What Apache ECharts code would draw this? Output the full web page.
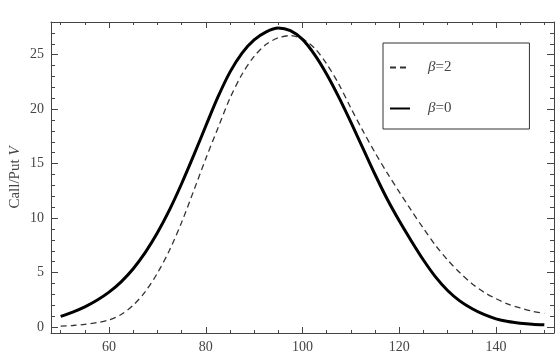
<!DOCTYPE html>
<html>
<head>
<meta charset="utf-8">
<script src="https://cdn.jsdelivr.net/npm/echarts@6/dist/echarts.min.js"></script>
<style>
  html, body { margin: 0; padding: 0; background: #fff; }
  #chart { width: 560px; height: 355px; }
</style>
</head>
<body>
<div id="chart"></div>
<script>
// strike grid and vega values
var strikes = [50, 52.5, 55, 57.5, 60, 62.5, 65, 67.5, 70, 72.5, 75, 77.5, 80, 82.5, 85, 87.5, 90, 92.5, 95, 97.5,
  100, 102.5, 105, 107.5, 110, 112.5, 115, 117.5, 120, 122.5, 125, 127.5, 130, 132.5, 135, 137.5, 140, 142.5, 145, 147.5, 150];
var vegaBeta0 = [0.97, 1.37, 1.85, 2.45, 3.2, 4.15, 5.35, 6.85, 8.65, 10.75, 13.15, 15.75, 18.45, 21.1, 23.4, 25.15, 26.35, 27.1, 27.45, 27.2,
  26.4, 25.0, 23.2, 21.1, 18.8, 16.4, 14.0, 11.75, 9.75, 7.9, 6.15, 4.6, 3.35, 2.4, 1.7, 1.15, 0.75, 0.5, 0.35, 0.25, 0.2];
var vegaBeta2 = [0.08, 0.14, 0.24, 0.4, 0.65, 1.15, 2.0, 3.25, 4.95, 7.05, 9.6, 12.5, 15.45, 18.25, 21.0, 23.2, 24.85, 25.95, 26.55, 26.75,
  26.45, 25.6, 24.15, 22.3, 20.1, 18.0, 16.0, 14.15, 12.4, 10.7, 9.05, 7.5, 6.15, 5.0, 4.0, 3.2, 2.6, 2.1, 1.75, 1.45, 1.25];
var seriesNames = ['β=2', 'β=0'];

function pairs(xs, ys) {
  var out = [];
  for (var i = 0; i < xs.length; i++) out.push([xs[i], ys[i]]);
  return out;
}

var chart = echarts.init(document.getElementById('chart'), null, { renderer: 'canvas' });

var serif = 'Liberation Serif, Times New Roman, serif';
var frameColor = '#444';

function baseAxis(pos, showLabel, fmtStep) {
  return {
    type: 'value',
    position: pos,
    axisLine: { show: true, onZero: false, lineStyle: { color: frameColor, width: 1 } },
    axisTick: { show: true, inside: true, length: 6, lineStyle: { color: frameColor } },
    minorTick: { show: true, length: 3, lineStyle: { color: frameColor } },
    splitLine: { show: false },
    axisLabel: {
      show: showLabel,
      color: '#444',
      fontFamily: serif,
      fontSize: 14,
      formatter: function (v) { return Math.abs(v % fmtStep) < 1e-9 ? String(v) : ''; }
    }
  };
}

var xBottom = baseAxis('bottom', true, 20);
xBottom.min = 48; xBottom.max = 152; xBottom.splitNumber = 5;
xBottom.minorTick.splitNumber = 4;
xBottom.axisLabel.margin = 7;
var xTop = baseAxis('top', false, 20);
xTop.min = 48; xTop.max = 152; xTop.splitNumber = 5;
xTop.minorTick.splitNumber = 4;

var yLeft = baseAxis('left', true, 5);
yLeft.min = -0.55; yLeft.max = 28; yLeft.splitNumber = 5;
yLeft.minorTick.splitNumber = 5;
yLeft.axisTick.length = 7;
yLeft.minorTick.length = 4;
yLeft.axisLabel.margin = 7;
yLeft.name = 'Call/Put {i|V}';
yLeft.nameLocation = 'middle';
yLeft.nameGap = 28;
yLeft.nameMoveOverlap = false;
yLeft.nameTextStyle = {
  color: '#444', fontFamily: serif, fontSize: 15,
  rich: { i: { fontStyle: 'italic', fontFamily: serif, fontSize: 15, color: '#444' } }
};
var yRight = baseAxis('right', false, 5);
yRight.min = -0.55; yRight.max = 28; yRight.splitNumber = 5;
yRight.minorTick.splitNumber = 5;
yRight.axisTick.length = 7;
yRight.minorTick.length = 4;

var option = {
  animation: false,
  backgroundColor: '#fff',
  grid: { left: 51, top: 22, right: 6, bottom: 22, outerBoundsMode: 'none' },
  legend: {
    orient: 'vertical',
    left: 383,
    top: 43,
    data: seriesNames,
    itemWidth: 20,
    itemHeight: 14,
    itemGap: 26,
    padding: [17, 78, 13, 6],
    borderColor: '#333',
    borderWidth: 1,
    itemStyle: { opacity: 0 },
    formatter: function (n) { return '{i|β}' + n.slice(1); },
    textStyle: {
      color: '#444', fontFamily: serif, fontSize: 15, padding: [0, 0, 0, 13],
      rich: { i: { fontStyle: 'italic', fontFamily: serif, fontSize: 15, color: '#444' } }
    }
  },
  xAxis: [xBottom, xTop],
  yAxis: [yLeft, yRight],
  series: [
    {
      name: seriesNames[0],
      type: 'line',
      xAxisIndex: 0, yAxisIndex: 0,
      data: pairs(strikes, vegaBeta2),
      smooth: 0.3,
      symbol: 'none',
      lineStyle: { color: '#333', width: 1.3, type: [6, 4] },
      itemStyle: { color: '#333' }
    },
    {
      name: seriesNames[1],
      type: 'line',
      xAxisIndex: 0, yAxisIndex: 0,
      data: pairs(strikes, vegaBeta0),
      smooth: 0.3,
      symbol: 'none',
      lineStyle: { color: '#000', width: 3 },
      itemStyle: { color: '#000' }
    }
  ]
};

chart.setOption(option);
</script>
</body>
</html>
